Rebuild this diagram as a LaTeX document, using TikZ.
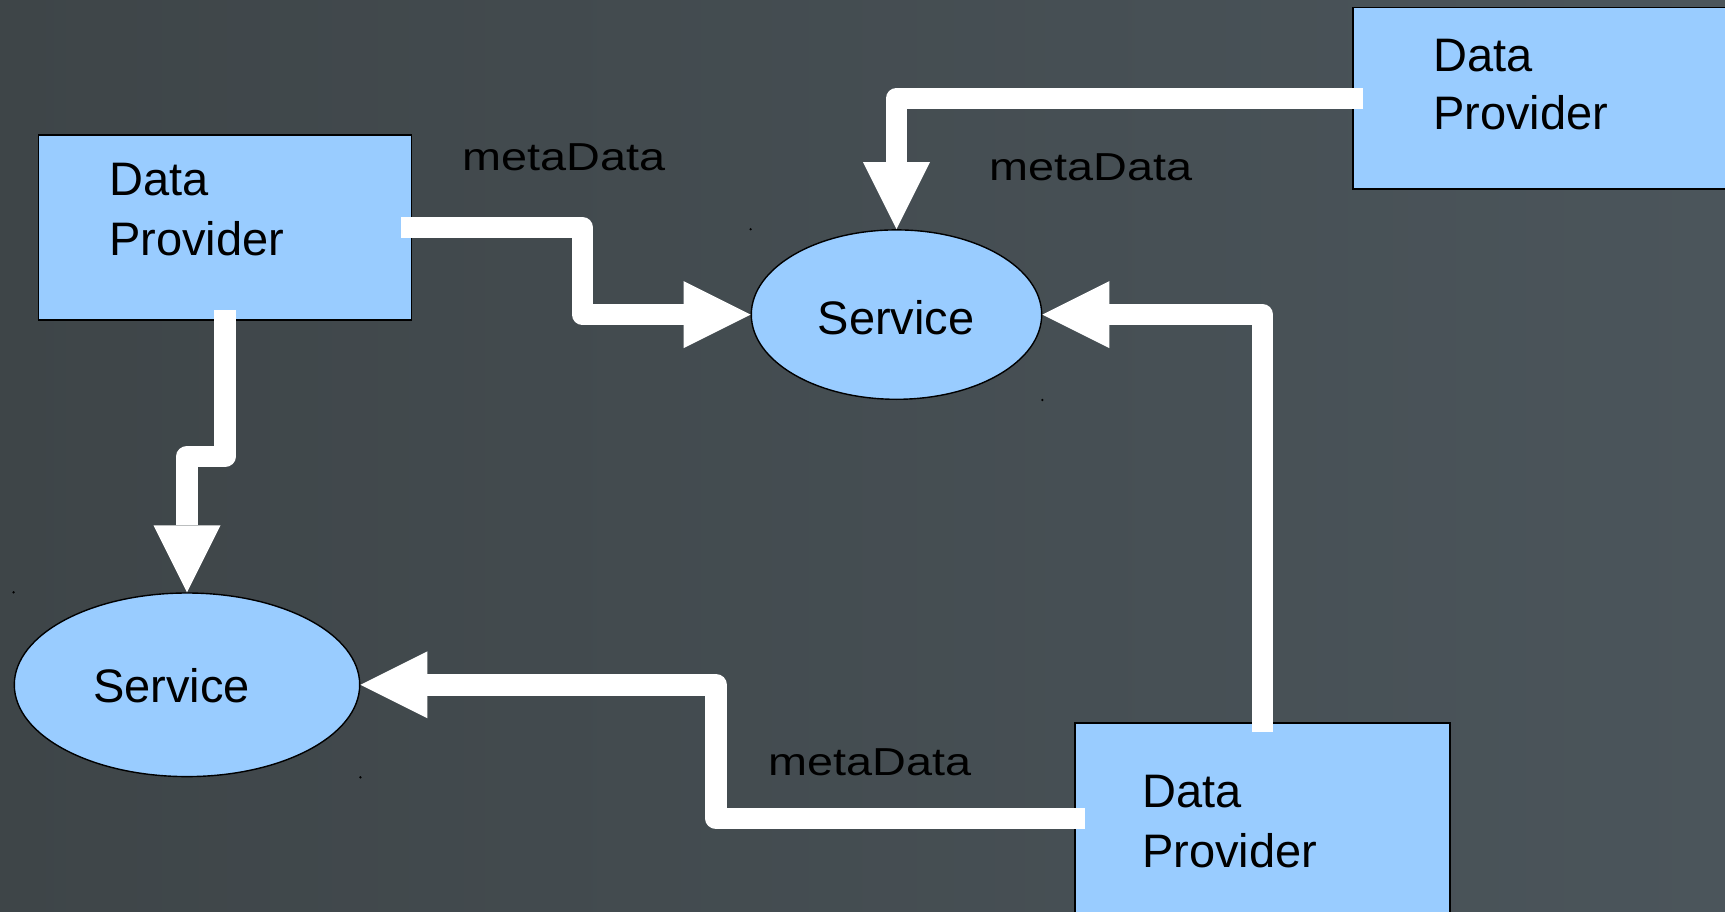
\documentclass[tikz,border=0pt]{standalone}
\usepackage{fontspec}
\setmainfont{Liberation Sans}
\newfontfamily\widesans[FakeStretch=1.2]{Liberation Sans}
\usetikzlibrary{arrows.meta,shapes.geometric}

\definecolor{bgleft}{HTML}{3E4548}
\definecolor{bgright}{HTML}{4B555B}
\definecolor{boxblue}{HTML}{99CCFF}

\tikzset{
  provider/.style={rectangle, draw=black, line width=1.6pt, fill=boxblue, inner sep=0pt},
  service/.style={ellipse, draw=black, line width=1.4pt, fill=boxblue, inner sep=0pt},
  txt/.style={anchor=base west, inner sep=0pt, text=black, font=\fontsize{47}{56}\selectfont},
  flowlabel/.style={anchor=base west, inner sep=0pt, text=black, font=\widesans\fontsize{39}{46}\selectfont},
  flow/.style={draw=white, line width=21.5pt, line join=round,
    -{Triangle[length=67pt, width=67pt, line width=0pt, color=white]}},
  handle/.style={fill=black},
}

\begin{document}
\begin{tikzpicture}[x=1pt, y=-1pt]
  % backdrop
  \shade[left color=bgleft, right color=bgright] (0,0) rectangle (1725,912);
  \useasboundingbox (0,0) rectangle (1725,912);
  \clip (0,0) rectangle (1725,912);

  % data providers
  \node[provider, minimum width=372.9pt, minimum height=184.8pt] (dp1) at (225,227.7) {};
  \node[provider, minimum width=392pt, minimum height=181.5pt] (dp2) at (1549,98.45) {};
  \node[provider, minimum width=375.1pt, minimum height=191.4pt] (dp3) at (1262.25,818.4) {};

  % services
  \node[service, minimum width=290.4pt, minimum height=169.4pt] (svc1) at (896.5,314.6) {};
  \node[service, minimum width=345.4pt, minimum height=183.6pt] (svc2) at (187,684.8) {};

  % selection marks at the service corners
  \fill[handle] (svc1.west |- svc1.north) circle (1.3);
  \fill[handle] (svc1.east |- svc1.south) circle (1.3);
  \fill[handle] (svc2.west |- svc2.north) circle (1.3);
  \fill[handle] (svc2.east |- svc2.south) circle (1.3);

  % texts
  \node[txt] (dp1a) at (109,196) {Data};
  \node[txt] (dp1b) at (109,256) {Provider};
  \node[txt] (dp2a) at (1433,71.7) {Data};
  \node[txt] (dp2b) at (1433,130) {Provider};
  \node[txt] (dp3a) at (1142,807.3) {Data};
  \node[txt] (dp3b) at (1142,867.3) {Provider};
  \node[txt] (svc1t) at (817.5,334.3) {Service};
  \node[txt] (svc2t) at (93,702.3) {Service};

  \node[flowlabel] (lab1) at (462,171) {metaData};
  \node[flowlabel] (lab2) at (989,180.5) {metaData};
  \node[flowlabel] (lab3) at (768,775.5) {metaData};

  % flows
  \coordinate (bend1) at (582.5,314.6);
  \coordinate (bend4) at (716,684.8);
  \coordinate (bend5) at (187,456.5);

  \draw[flow] ([xshift=-11pt]dp1.east) -| (bend1) -- (svc1.west);
  \draw[flow] ([xshift=11pt]dp2.west) -| (svc1.north);
  \draw[flow] ([yshift=-10pt]dp3.north) |- (svc1.east);
  \draw[flow] ([xshift=11pt]dp3.west) -| (bend4) -- (svc2.east);
  \draw[flow] ([yshift=11pt]dp1.south) |- (bend5) -- (svc2.north);
\end{tikzpicture}
\end{document}
